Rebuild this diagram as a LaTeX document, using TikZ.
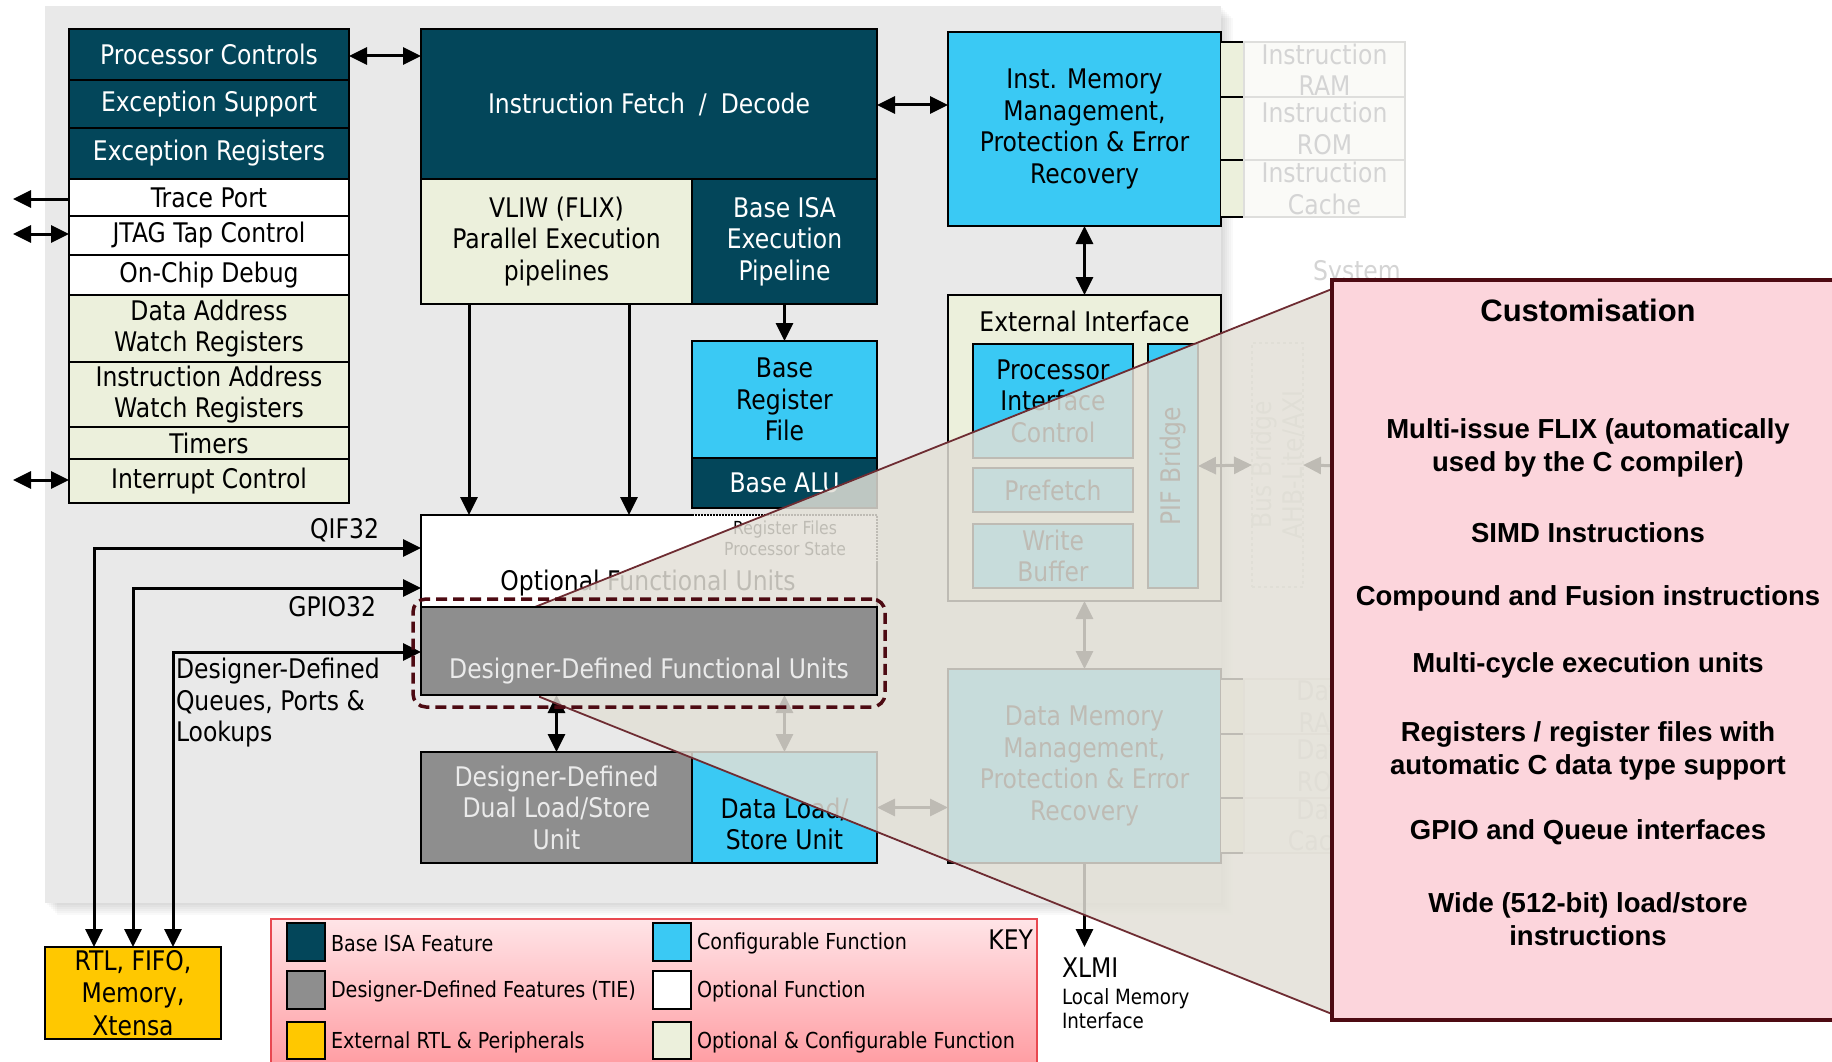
\documentclass[tikz,border=0pt]{standalone}
\usepackage{fontspec}
\setmainfont{DejaVu Sans}[FakeStretch=0.87]
\newfontfamily\arialfam{Liberation Sans}
\usetikzlibrary{arrows.meta}
\pgfdeclarelayer{ovl}
\pgfdeclarelayer{top}
\pgfsetlayers{main,ovl,top}
\definecolor{cTeal}{HTML}{03465A}
\definecolor{cCyan}{HTML}{3AC9F4}
\definecolor{cOpt}{HTML}{ECF0DC}
\definecolor{cGray}{HTML}{8E8E8E}
\definecolor{cYel}{HTML}{FFC800}
\definecolor{cPanel}{HTML}{E9E9E9}
\definecolor{cOver}{RGB}{227,224,215}
\definecolor{cCall}{HTML}{6E2C32}
\definecolor{cMaroon}{HTML}{4D0A12}
\definecolor{cPink}{HTML}{FCD5DC}
\definecolor{cFL}{RGB}{222,222,220}
\definecolor{cFF}{RGB}{250,250,247}
\definecolor{cFT}{RGB}{212,212,212}
\definecolor{cLegT}{RGB}{255,228,231}
\definecolor{cLegB}{RGB}{255,150,156}
\definecolor{cLegE}{RGB}{232,72,80}
\newcommand\szM{\fontsize{27}{31.5}\selectfont}
\newcommand\szS{\fontsize{22}{25}\selectfont}
\newcommand\szR{\fontsize{18}{21}\selectfont}
\newcommand\szX{\fontsize{21}{24}\selectfont}
\newcommand\szC{\arialfam\bfseries\fontsize{27.5}{33}\selectfont}
\newcommand\szT{\arialfam\bfseries\fontsize{31}{36}\selectfont}
\newcommand\bx[7]{\node[box,#2,minimum width={(#5)-(#3)},minimum height={(#6)-(#4)}] (#1) at ({((#3)+(#5))/2},{((#4)+(#6))/2}) {#7};}
\begin{document}
\begin{tikzpicture}[x=1pt,y=-1pt,
  box/.style={draw=black,line width=2,inner sep=0pt,outer sep=0pt,align=center,font=\szM},
  dk/.style={fill=cTeal,text=white},
  cy/.style={fill=cCyan},
  op/.style={fill=cOpt},
  wh/.style={fill=white},
  gr/.style={fill=cGray,text=white!92!black},
  faded/.style={draw=cFL,line width=1.5,fill=cFF,text=cFT},
  lbl/.style={inner sep=0pt,outer sep=0pt,font=\szM},
  arr/.style={line width=3,-{Triangle[length=18pt,width=17pt]}},
  darr/.style={line width=3,{Triangle[length=18pt,width=17pt]}-{Triangle[length=18pt,width=17pt]}},
  citem/.style={inner sep=0pt,align=center,font=\szC},
]
\fill[white] (0,0) rectangle (1832,1062);
\useasboundingbox (0,0) rectangle (1832,1062);

% main panel with shadow
\foreach \k in {2,4,...,12} \fill[black,opacity=0.025] (45+\k,6+\k) rectangle (1221+\k,903+\k);
\fill[cPanel] (45,6) rectangle (1221,903);

% left column
\bx{pc}{dk}{69}{29}{349}{80}{Processor Controls}
\bx{es}{dk}{69}{80}{349}{128}{Exception Support}
\bx{er}{dk}{69}{128}{349}{179}{Exception Registers}
\bx{tp}{wh}{69}{179}{349}{216}{Trace Port}
\bx{jt}{wh}{69}{216}{349}{255}{JTAG Tap Control}
\bx{ocd}{wh}{69}{255}{349}{295}{On-Chip Debug}
\bx{daw}{op}{69}{295}{349}{362}{Data Address\\Watch Registers}
\bx{iaw}{op}{69}{362}{349}{427}{Instruction Address\\Watch Registers}
\bx{tim}{op}{69}{427}{349}{459}{Timers}
\bx{ic}{op}{69}{459}{349}{503}{Interrupt Control}
\coordinate (tpx) at (13,199);
\coordinate (jtx) at (13,234);
\coordinate (icx) at (13,480);
\draw[arr] (tp.west |- tpx) -- (tpx);
\draw[darr] (jt.west |- jtx) -- (jtx);
\draw[darr] (ic.west |- icx) -- (icx);

% centre column
\bx{ifd}{dk}{421}{29}{877}{179}{Instruction Fetch\hspace{14pt}/\hspace{14pt}Decode}
\bx{vliw}{op}{421}{179}{692}{304}{VLIW (FLIX)\\Parallel Execution\\pipelines}
\bx{bisa}{dk}{692}{179}{877}{304}{Base ISA\\Execution\\Pipeline}
\bx{brf}{cy}{692}{341}{877}{458}{Base\\Register\\File}
\bx{alu}{dk}{692}{458}{877}{508}{Base ALU}
\coordinate (pcy) at (0,56);
\draw[darr] (pc.east |- pcy) -- (ifd.west |- pcy);
\draw[arr] (bisa.south) -- (brf.north);

% optional functional units
\node[fill=white,minimum width=456,minimum height=92,inner sep=0pt,outer sep=0pt] (opt) at (649,561) {};
\draw[line width=2] (692,515) -- (421,515) -- (421,607);
\draw[line width=2,densely dotted] (692,515) -- (877,515) -- (877,562);
\draw[line width=2] (877,562) -- (877,607);
\node[lbl] (optt) at (648,583) {Optional Functional Units};
\node[lbl,font=\szR,align=center] (rft) at (785,538.5) {Register Files\\Processor State};
\coordinate (v1) at (469,304);
\coordinate (v2) at (629,304);
\draw[arr] (v1) -- (v1 |- opt.north);
\draw[arr] (v2) -- (v2 |- opt.north);

% load/store units
\bx{ddls}{gr}{421}{752}{692}{863}{Designer-Defined\\Dual Load/Store\\Unit}
\bx{dls}{cy}{692}{752}{877}{863}{}
\node[lbl,align=center] (dlst) at (784.5,824) {Data Load/\\Store Unit};

% right column
\bx{imm}{cy}{948}{32}{1221}{226}{Inst. Memory\\Management,\\Protection \& Error\\Recovery}
\coordinate (imy) at (0,105);
\draw[darr] (ifd.east |- imy) -- (imm.west |- imy);
\bx{exif}{op}{948}{295}{1221}{601}{}
\node[lbl] (exift) at (1084.5,321) {External Interface};
\draw[darr] (imm.south) -- (exif.north);
\bx{pic}{cy}{973}{344}{1133}{458}{Processor\\Interface\\Control}
\bx{pre}{cy}{973}{468}{1133}{512}{Prefetch}
\bx{wb}{cy}{973}{524}{1133}{588}{Write\\Buffer}
\bx{pif}{cy}{1148}{344}{1198}{588}{}
\node[lbl,rotate=90] (pift) at (1173,466) {PIF Bridge};
\bx{dmm}{cy}{948}{669}{1221}{863}{Data Memory\\Management,\\Protection \& Error\\Recovery}
\draw[darr] (exif.south) -- (dmm.north);
\draw[darr] (dls.east) -- (dls.east -| dmm.west);
\coordinate (xl) at (1084.5,947);
\draw[arr] (dmm.south) -- (xl);
\node[lbl,anchor=west] (xlmi) at (1062,968) {XLMI};
\node[lbl,anchor=west,align=left,font=\szX] (lmi) at (1062,1009) {Local Memory\\Interface};

% instruction memories (outside)
\fill[cOpt] (1221,42) rectangle (1244,217);
\foreach \yy in {42,97,160,217} \draw[line width=2] (1221,\yy) -- (1244,\yy);
\bx{iram}{faded}{1244}{42}{1405}{97}{Instruction\\RAM}
\bx{irom}{faded}{1244}{97}{1405}{160}{Instruction\\ROM}
\bx{icache}{faded}{1244}{160}{1405}{217}{Instruction\\Cache}
\node[lbl,text=cFT] (sys) at (1357,273) {System};

% bus bridge
\bx{bb}{dashed,draw=cFT,line width=1.5,text=cFT}{1252}{343}{1303}{587}{}
\node[lbl,rotate=90,align=center,text=cFT] (bbt) at (1278,465) {Bus Bridge\\AHB-Lite/AXI};
\draw[darr,black] (pif.east) -- (bb.west);
\coordinate (sysin) at (1345,466);
\draw[arr] (sysin) -- (bb.east);

% data memories (outside)
\fill[cOpt] (1221,679) rectangle (1244,853);
\foreach \yy in {679,734,798,853} \draw[line width=2] (1221,\yy) -- (1244,\yy);
\bx{dram}{faded}{1244}{679}{1405}{734}{Data\\RAM}
\bx{drom}{faded}{1244}{734}{1405}{798}{Data\\ROM}
\bx{dcache}{faded}{1244}{798}{1405}{853}{Data\\Cache}

% external RTL
\bx{rtl}{fill=cYel,font=\fontsize{27}{32.5}\selectfont}{45}{947}{221}{1039}{RTL, FIFO,\\Memory,\\Xtensa}
\coordinate (qb) at (94,947);
\coordinate (gb) at (133,947);
\coordinate (db) at (173,947);
\coordinate (qe) at (421,548);
\coordinate (ge) at (421,588);
\coordinate (de) at (421,652);
\draw[darr] (qb) |- (qe);
\draw[darr] (gb) |- (ge);
\draw[darr] (db) |- (de);
\node[lbl,anchor=east] (qlab) at (379,530) {QIF32};
\node[lbl,anchor=east] (glab) at (376,607) {GPIO32};
\node[lbl,anchor=west,align=left] (ddq) at (176,703) {Designer-Defined\\Queues, Ports \&\\Lookups};

% legend
\node[draw=cLegE,line width=1.5,top color=cLegT,bottom color=cLegB,minimum width=766,minimum height=160,inner sep=0pt,outer sep=0pt] (key) at (654,999) {};
\bx{k1}{dk}{287}{923}{325}{961}{}
\bx{k2}{gr}{287}{971}{325}{1009}{}
\bx{k3}{fill=cYel}{287}{1022}{325}{1059}{}
\bx{k4}{cy}{653}{923}{691}{961}{}
\bx{k5}{wh}{653}{971}{691}{1009}{}
\bx{k6}{op}{653}{1022}{691}{1059}{}
\node[lbl,anchor=west,font=\szS] (t1) at (331,943) {Base ISA Feature};
\node[lbl,anchor=west,font=\szS] (t2) at (331,991) {Designer-Defined Features (TIE)};
\node[lbl,anchor=west,font=\szS] (t3) at (331,1042) {External RTL \& Peripherals};
\node[lbl,anchor=west,font=\szS] (t4) at (697,943) {Configurable Function};
\node[lbl,anchor=west,font=\szS] (t5) at (697,991) {Optional Function};
\node[lbl,anchor=west,font=\szS] (t6) at (697,1042) {Optional \& Configurable Function};
\node[lbl,anchor=east] (keyt) at (1033,940) {KEY};

% call-out overlay
\begin{pgfonlayer}{ovl}
\filldraw[fill=cOver,fill opacity=0.84,draw=cCall,line width=1.8] (535,607) -- (1332,289) -- (1332,1014) -- (540,697) -- cycle;
\end{pgfonlayer}

\begin{pgfonlayer}{top}
\bx{ddfu}{gr}{421}{607}{877}{695}{}
\node[lbl,text=white!92!black] (ddfut) at (649,671) {Designer-Defined Functional Units};
\node[draw=cMaroon,line width=3.5,dash pattern=on 11pt off 6pt,rounded corners=13,minimum width=472,minimum height=108,inner sep=0pt] (ddbox) at (649,653) {};
\bx{cust}{draw=cMaroon,line width=4,fill=cPink}{1332}{280}{1846}{1020}{}
\node[inner sep=0pt,font=\szT] (ct) at (1588,310) {Customisation};
\node[citem] (c1) at (1588,447.5) {Multi-issue FLIX (automatically\\used by the C compiler)};
\node[citem] (c2) at (1588,533) {SIMD Instructions};
\node[citem] (c3) at (1588,598) {Compound and Fusion instructions};
\node[citem] (c4) at (1588,665) {Multi-cycle execution units};
\node[citem] (c5) at (1588,751) {Registers / register files with\\automatic C data type support};
\node[citem] (c6) at (1588,832) {GPIO and Queue interfaces};
\node[citem] (c7) at (1588,919) {Wide (512-bit) load/store\\instructions};
\end{pgfonlayer}

\draw[darr] (ddfu.south -| ddls.north) -- (ddls.north);
\draw[darr] (ddfu.south -| dls.north) -- (dls.north);
\end{tikzpicture}
\end{document}
